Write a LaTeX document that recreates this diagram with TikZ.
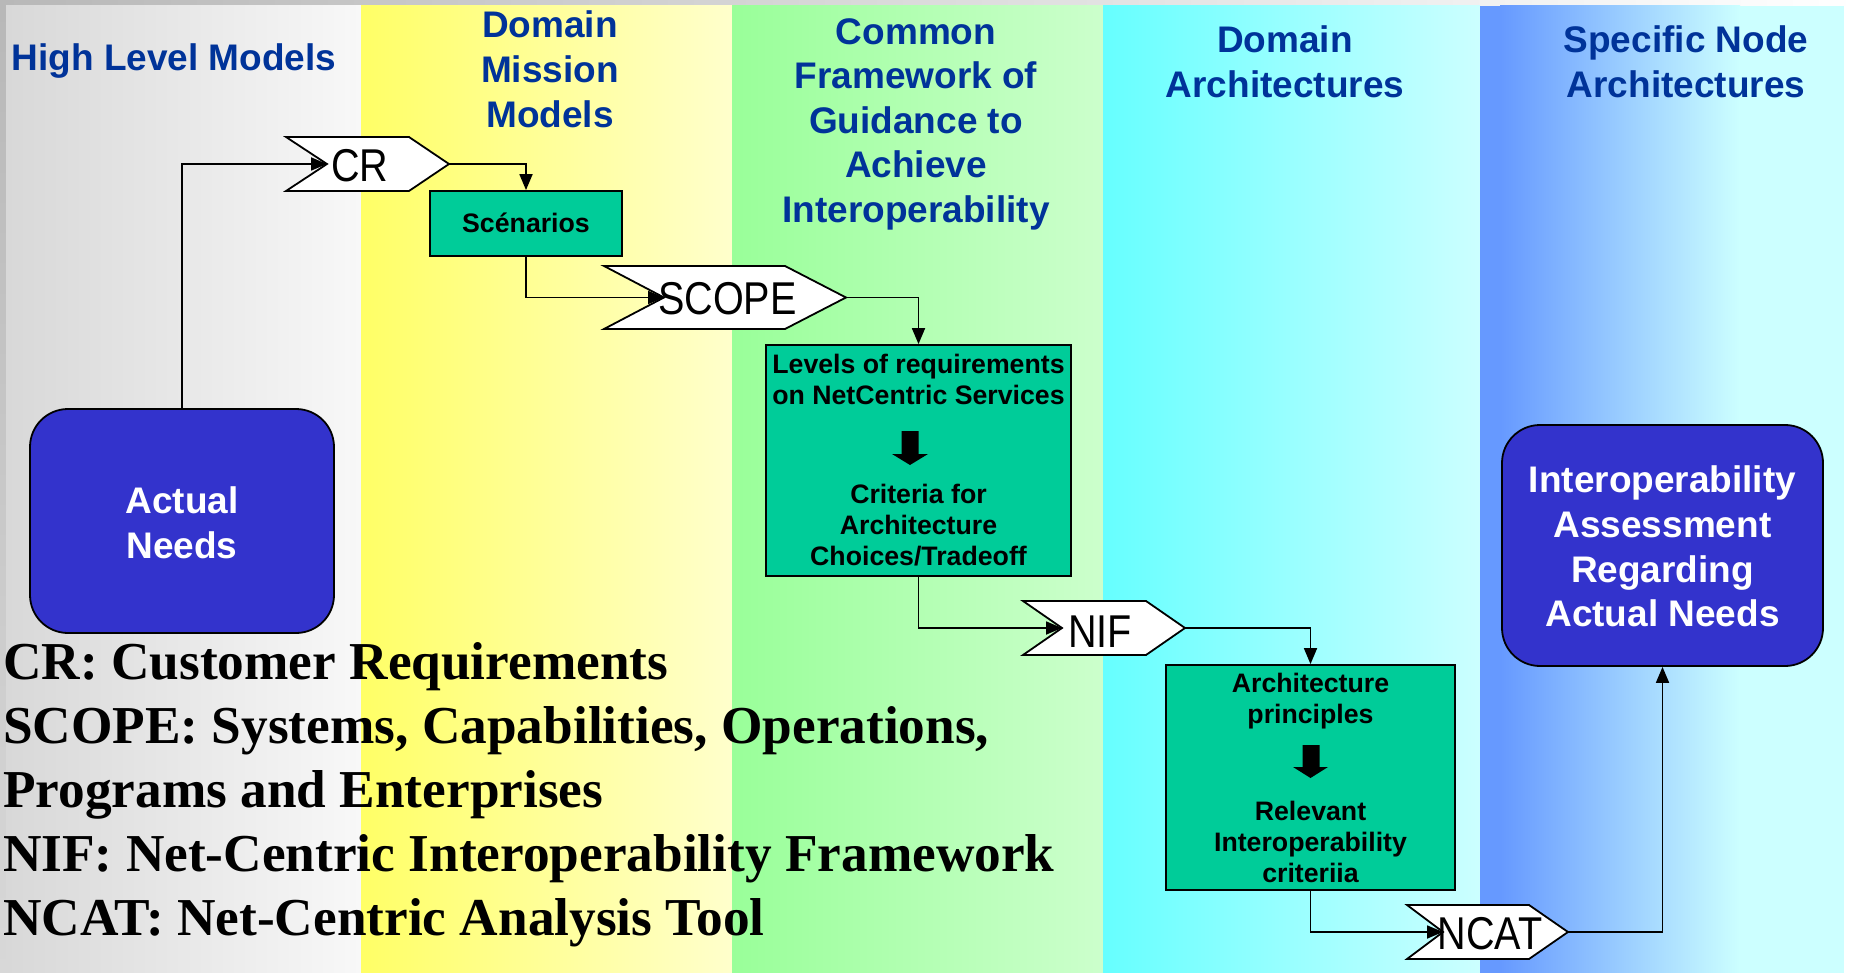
\documentclass[tikz,border=0pt]{standalone}
\usepackage{fontspec}
\setmainfont{Liberation Sans}
\newfontfamily\legfont{Liberation Serif}
\newfontfamily\chevfont[FakeStretch=0.86]{Liberation Sans}
\usetikzlibrary{arrows.meta}
\definecolor{hdrblue}{HTML}{003399}
\definecolor{boxgreen}{HTML}{00CC99}
\definecolor{boxblue}{HTML}{3333CC}
\definecolor{grayL}{HTML}{D8D8D8}
\definecolor{grayR}{HTML}{F8F8F8}
\definecolor{yelL}{HTML}{FFFF66}
\definecolor{yelR}{HTML}{FFFFCC}
\definecolor{grnL}{HTML}{99FF99}
\definecolor{grnR}{HTML}{CCFFCC}
\definecolor{cyaL}{HTML}{66FFFF}
\definecolor{cyaR}{HTML}{CCFFFF}
\definecolor{bluL}{HTML}{6699FF}
\definecolor{topgray}{HTML}{B8B8B8}
\begin{document}
\begin{tikzpicture}[x=1pt,y=-1pt,
  hdr/.style={font=\fontsize{37}{44}\selectfont\bfseries, text=hdrblue, anchor=base, inner sep=0pt},
  boxtxt/.style={font=\fontsize{26.7}{30}\selectfont\bfseries, text=black, anchor=base, inner sep=0pt},
  whitetxt/.style={font=\fontsize{37}{44}\selectfont\bfseries, text=white, anchor=base, inner sep=0pt},
  legtxt/.style={font=\legfont\bfseries\fontsize{53.3}{64}\selectfont, text=black, anchor=base west, inner sep=0pt},
  chevtxt/.style={font=\chevfont\fontsize{46}{50}\selectfont, text=black, anchor=base, inner sep=0pt},
  chevline/.style={draw=black, line width=1.8pt, fill=white, line join=miter},
  greenbox/.style={draw=black, line width=1.8pt, fill=boxgreen, inner sep=0pt},
  bluebox/.style={draw=black, line width=1.8pt, fill=boxblue, rounded corners=38pt, inner sep=0pt},
  conn/.style={draw=black, line width=1.8pt, -{Triangle[length=16pt,width=13pt]}},
  bigarrow/.style={fill=black}
]
\useasboundingbox (0,0) rectangle (1858,973);
% background
\fill[white] (0,0) rectangle (1858,973);
\shade[left color=topgray, right color=white] (0,0) rectangle (1858,6);
\shade[top color=topgray, bottom color=grayL] (0,6) rectangle (6,973);
\shade[left color=grayL, right color=grayR] (6,6) rectangle (361,973);
\shade[left color=yelL, right color=yelR] (361,6) rectangle (732,973);
\shade[left color=grnL, right color=grnR] (732,6) rectangle (1103,973);
\shade[left color=cyaL, right color=cyaR] (1103,6) rectangle (1480,973);
\fill[bluL] (1480,6) rectangle (1500,973);
\shade[left color=bluL, right color=cyaR] (1500,6) rectangle (1740,973);
\fill[cyaR] (1740,6) rectangle (1844,973);

% headers
\node[hdr] (h1) at (174,71) {High Level Models};
\node[hdr] (h2a) at (550,38) {Domain};
\node[hdr] (h2b) at (550,83) {Mission};
\node[hdr] (h2c) at (550,128) {Models};
\node[hdr] (h3a) at (916,45) {Common};
\node[hdr] (h3b) at (916,89) {Framework of};
\node[hdr] (h3c) at (916,134) {Guidance to};
\node[hdr] (h3d) at (916,178) {Achieve};
\node[hdr] (h3e) at (916,223) {Interoperability};
\node[hdr] (h4a) at (1285,53) {Domain};
\node[hdr] (h4b) at (1285,98) {Architectures};
\node[hdr] (h5a) at (1686,53) {Specific Node};
\node[hdr] (h5b) at (1686,98) {Architectures};

% boxes
\node[bluebox, minimum width=304pt, minimum height=224pt] (actual) at (182,521) {};
\node[whitetxt] (actualA) at (182,513) {Actual};
\node[whitetxt] (actualB) at (182,558) {Needs};

\node[bluebox, minimum width=321pt, minimum height=241pt] (assess) at (1662.5,545.5) {};
\node[whitetxt] (assA) at (1662.5,492) {Interoperability};
\node[whitetxt] (assB) at (1662.5,537) {Assessment};
\node[whitetxt] (assC) at (1662.5,582) {Regarding};
\node[whitetxt] (assD) at (1662.5,626) {Actual Needs};

\node[greenbox, minimum width=192pt, minimum height=65pt] (scen) at (526,223.5) {};
\node[boxtxt] (scenT) at (526,233) {Scénarios};

\node[greenbox, minimum width=305pt, minimum height=231pt] (levels) at (918.5,460.5) {};
\node[boxtxt] (levA) at (918.5,374) {Levels of requirements};
\node[boxtxt] (levB) at (918.5,405) {on NetCentric Services};
\node[boxtxt] (levC) at (918.5,503) {Criteria for};
\node[boxtxt] (levD) at (918.5,534) {Architecture};
\node[boxtxt] (levE) at (918.5,565) {Choices/Tradeoff};
\fill[bigarrow] (901.5,431) -- (918.5,431) -- (918.5,454) -- (928,454) -- (910,465) -- (892,454) -- (901.5,454) -- cycle;

\node[greenbox, minimum width=289pt, minimum height=225pt] (arch) at (1310.5,777.5) {};
\node[boxtxt] (archA) at (1310.5,692) {Architecture};
\node[boxtxt] (archB) at (1310.5,723) {principles};
\node[boxtxt] (archC) at (1310.5,820) {Relevant};
\node[boxtxt] (archD) at (1310.5,851) {Interoperability};
\node[boxtxt] (archE) at (1310.5,882) {criteriia};
\fill[bigarrow] (1302.5,745) -- (1319.5,745) -- (1319.5,767) -- (1328,767) -- (1310.5,778) -- (1293,767) -- (1302.5,767) -- cycle;

% chevrons
\draw[chevline] (286,137) -- (409,137) -- (449,164) -- (409,191) -- (286,191) -- (327,164) -- cycle;
\coordinate (crin) at (327,164);
\coordinate (crout) at (449,164);
\node[chevtxt] (cr) at (360,182) {CR};

\draw[chevline] (604,266) -- (785,266) -- (846,297.5) -- (785,329) -- (604,329) -- (664,297.5) -- cycle;
\coordinate (scopein) at (664,297.5);
\coordinate (scopeout) at (846,297.5);
\node[chevtxt] (scope) at (727.5,315) {SCOPE};

\draw[chevline] (1023,601) -- (1146,601) -- (1185,628) -- (1146,655) -- (1023,655) -- (1062,628) -- cycle;
\coordinate (nifin) at (1062,628);
\coordinate (nifout) at (1185,628);
\node[chevtxt] (nif) at (1100,647) {NIF};

\draw[chevline] (1407,905) -- (1529,905) -- (1568,932) -- (1529,959) -- (1407,959) -- (1443,932) -- cycle;
\coordinate (ncatin) at (1443,932);
\coordinate (ncatout) at (1568,932);
\node[chevtxt] (ncat) at (1490,949) {NCAT};

% connectors
\draw[conn] (actual.north) |- (crin);
\draw[conn] (crout) -| (scen.north);
\draw[conn] (scen.south) |- (scopein);
\draw[conn] (scopeout) -| (levels.north);
\draw[conn] (levels.south) |- (nifin);
\draw[conn] (nifout) -| (arch.north);
\draw[conn] (arch.south) |- (ncatin);
\draw[conn] (ncatout) -| (assess.south);

% legend
\node[legtxt] (legA) at (3,679) {CR: Customer Requirements};
\node[legtxt] (legB) at (3,743) {SCOPE: Systems, Capabilities, Operations,};
\node[legtxt] (legC) at (3,807) {Programs and Enterprises};
\node[legtxt] (legD) at (3,871) {NIF: Net-Centric Interoperability Framework};
\node[legtxt] (legE) at (3,935) {NCAT: Net-Centric Analysis Tool};
\end{tikzpicture}
\end{document}
